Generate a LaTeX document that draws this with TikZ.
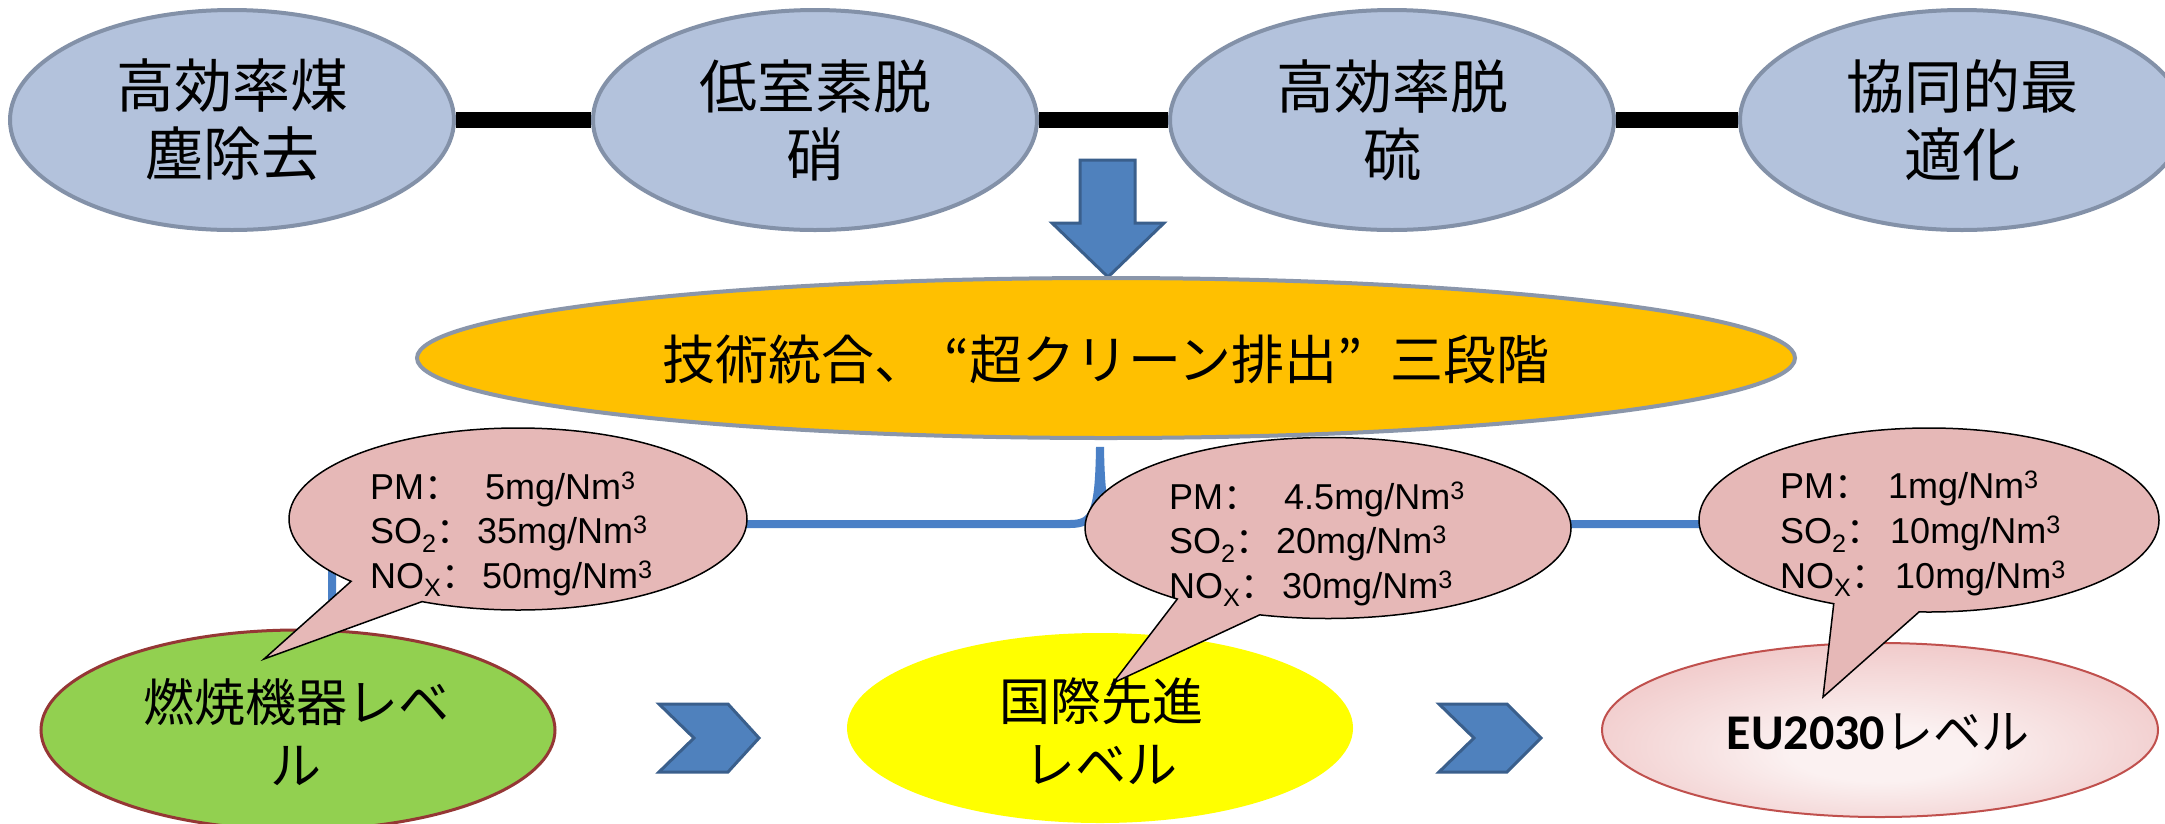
\documentclass[tikz,border=0pt]{standalone}
\usepackage{fontspec}
\setmainfont{Liberation Sans}
\newfontfamily\cjk{Noto Sans CJK JP}
\newfontfamily\cjksc{Noto Sans CJK SC}
\newfontfamily\carl{Carlito}
\usetikzlibrary{shapes.geometric,shapes.callouts}
\definecolor{topfill}{HTML}{B3C2DC}
\definecolor{topedge}{HTML}{8391A8}
\definecolor{orangefill}{HTML}{FFC000}
\definecolor{orangeedge}{HTML}{8A96AA}
\definecolor{arrowblue}{HTML}{4F81BD}
\definecolor{arrowedge}{HTML}{3A5F8C}
\definecolor{bubblefill}{HTML}{E6B8B7}
\definecolor{bracecol}{HTML}{4A80C6}
\definecolor{greenfill}{HTML}{92D050}
\definecolor{greenedge}{HTML}{953735}
\definecolor{yellowfill}{HTML}{FFFF00}
\definecolor{euedge}{HTML}{C0504D}
\definecolor{euin}{HTML}{FBF1F1}
\definecolor{euout}{HTML}{E6A2A2}
\pgfdeclareradialshading{eushade}{\pgfpoint{0bp}{-8bp}}{color(0bp)=(euin); color(8bp)=(euin); color(50bp)=(euout)}
\newcommand\colonj{{\cjksc ：}}
\begin{document}
\begin{tikzpicture}[x=1pt,y=-1pt,
  topell/.style={ellipse, draw=topedge, line width=4pt, fill=topfill,
    minimum width=444pt, minimum height=220pt, inner sep=0pt,
    font={\cjk\fontsize{58}{68}\selectfont}, align=center},
  bar/.style={line width=16pt, black},
  bigarrow/.style={fill=arrowblue, draw=arrowedge, line width=3pt, line join=miter},
  chev/.style={fill=arrowblue, draw=arrowedge, line width=3pt, line join=miter},
  bubble/.style={ellipse callout, draw=black, line width=1.5pt, fill=bubblefill,
    inner sep=0pt, callout pointer arc=22},
  bt/.style={font={\fontsize{36}{44}\selectfont}, anchor=base west, inner sep=0pt},
  brace/.style={draw=bracecol, line width=8pt},
  lowtext/.style={font={\cjk\fontsize{51}{63}\selectfont}, align=center, inner sep=0pt}]
\useasboundingbox (0,0) rectangle (2165,823);
\fill[white] (0,0) rectangle (2165,823);

% top row
\node[topell] (e1) at (232,120) {高効率煤\\塵除去};
\node[topell] (e2) at (815,120) {低室素脱\\硝};
\node[topell] (e3) at (1392,120) {高効率脱\\硫};
\node[topell] (e4) at (1962,120) {協同的最\\適化};
\draw[bar] (e1.east) -- (e2.west);
\draw[bar] (e2.east) -- (e3.west);
\draw[bar] (e3.east) -- (e4.west);

% down arrow
\draw[bigarrow] (1080,160) -- (1135,160) -- (1135,223) -- (1164,223) -- (1108,277) -- (1052,223) -- (1080,223) -- cycle;

% central ellipse
\node[ellipse, draw=orangeedge, line width=4pt, fill=orangefill, minimum width=1378pt,
  minimum height=160pt, inner sep=0pt] (core) at (1106,358) {};
\node[font={\cjk\fontsize{53}{60}\selectfont}, inner sep=0pt] (coretext) at (1106,359)
  {技術統合、\makebox[0.8em][r]{“}超クリーン排出\makebox[1em][l]{”}三段階};

% brace
\draw[brace] (332,600) -- (332,540) .. controls (332,529) and (337,524) .. (348,524)
  -- (1070,524) .. controls (1094,524) and (1099,512) .. (1100,447)
  .. controls (1101,512) and (1106,524) .. (1130,524) -- (1852,524)
  .. controls (1863,524) and (1868,529) .. (1868,540) -- (1868,600);

% bottom ellipses
\node[ellipse, fill=greenfill, draw=greenedge, line width=3pt, minimum width=514pt,
  minimum height=200pt, inner sep=0pt] (g) at (298,730) {};
\node[ellipse, fill=yellowfill, minimum width=506pt, minimum height=190pt, inner sep=0pt] (y) at (1100,728) {};
\node[ellipse, shading=eushade, draw=euedge, line width=2pt, minimum width=556pt,
  minimum height=174pt, inner sep=0pt] (eu) at (1880,730) {};

% chevrons
\draw[chev] (659,704) -- (728,704) -- (759,738) -- (728,772) -- (659,772) -- (694,738) -- cycle;
\draw[chev] (1439,704) -- (1507,704) -- (1541,738) -- (1507,772) -- (1439,772) -- (1474,738) -- cycle;

% callouts
\node[bubble, minimum width=458pt, minimum height=182pt, callout absolute pointer={(264,659)}] (b1) at (518,519) {};
\node[bubble, minimum width=486pt, minimum height=181pt, callout absolute pointer={(1113,683)}] (b2) at (1328,528) {};
\node[bubble, minimum width=460pt, minimum height=184pt, callout absolute pointer={(1823,697)}] (b3) at (1929,520) {};

\node[bt] (b1a) at (370,499) {\makebox[115pt][l]{PM\colonj}5mg/Nm\textsuperscript{3}};
\node[bt] (b1b) at (370,543) {\makebox[107pt][l]{SO\textsubscript{2}\colonj}35mg/Nm\textsuperscript{3}};
\node[bt] (b1c) at (370,588) {\makebox[112pt][l]{NO\textsubscript{X}\colonj}50mg/Nm\textsuperscript{3}};

\node[bt] (b2a) at (1169,509) {\makebox[115pt][l]{PM\colonj}4.5mg/Nm\textsuperscript{3}};
\node[bt] (b2b) at (1169,553) {\makebox[107pt][l]{SO\textsubscript{2}\colonj}20mg/Nm\textsuperscript{3}};
\node[bt] (b2c) at (1169,598) {\makebox[113pt][l]{NO\textsubscript{X}\colonj}30mg/Nm\textsuperscript{3}};

\node[bt] (b3a) at (1780,498) {\makebox[108pt][l]{PM\colonj}1mg/Nm\textsuperscript{3}};
\node[bt] (b3b) at (1780,543) {\makebox[110pt][l]{SO\textsubscript{2}\colonj}10mg/Nm\textsuperscript{3}};
\node[bt] (b3c) at (1780,588) {\makebox[115pt][l]{NO\textsubscript{X}\colonj}10mg/Nm\textsuperscript{3}};

% bottom texts
\node[lowtext] (gt) at (296,732) {燃焼機器レベ\\ル};
\node[lowtext] (yt) at (1101,731) {国際先進\\レベル};
\node[inner sep=0pt] (eut) at (1878,732) {{\carl\bfseries\fontsize{50}{60}\selectfont EU2030}{\cjk\fontsize{48}{60}\selectfont レベル}};
\end{tikzpicture}
\end{document}
